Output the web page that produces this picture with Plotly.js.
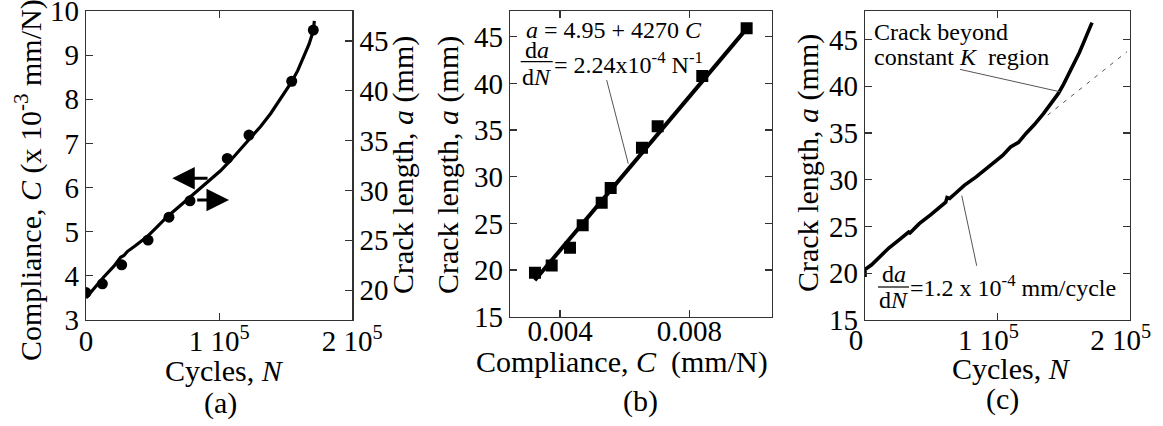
<!DOCTYPE html>
<html>
<head>
<meta charset="utf-8">
<script src="https://cdn.plot.ly/plotly-3.0.1.min.js"></script>
<style>html,body{margin:0;padding:0;background:#fff;}#chart{width:1163px;height:426px;}</style>
</head>
<body>
<div id="chart"></div>
<script>
// ---------- data ----------
// (a) compliance vs cycles
const curveA_N = [0, 6e3, 13.5e3, 21e3, 26e3, 28.5e3, 31e3, 37e3, 46e3, 53e3, 61e3, 70e3, 78.6e3, 86e3, 93.6e3, 101e3, 108.7e3, 116e3, 123.7e3, 131e3, 138.7e3, 146e3, 153.7e3, 159e3, 163.7e3, 167.5e3, 170.7e3, 171.5e3];
const curveA_C = [3.50, 3.72, 3.98, 4.22, 4.42, 4.46, 4.55, 4.68, 4.89, 5.10, 5.34, 5.57, 5.79, 5.98, 6.17, 6.38, 6.62, 6.86, 7.12, 7.38, 7.68, 8.00, 8.36, 8.65, 8.96, 9.25, 9.55, 9.78];
const pointsA_N = [0, 12.3e3, 26.8e3, 46.6e3, 62.3e3, 78.1e3, 106.1e3, 122.4e3, 154.5e3, 170.7e3];
const pointsA_C = [3.62, 3.82, 4.25, 4.81, 5.33, 5.70, 6.66, 7.19, 8.41, 9.57];
// (b) crack length vs compliance
const pointsB_C = [0.003226, 0.003743, 0.004309, 0.004702, 0.005290, 0.005568, 0.006536, 0.007022, 0.008402, 0.009775];
const pointsB_a = [19.7, 20.5, 22.4, 24.8, 27.2, 28.8, 33.1, 35.4, 40.8, 45.9];
const fitB_C = [0.00322, 0.00978];
const fitB_a = [18.9, 45.9];
// (c) crack length vs cycles
const curveC_N = [0, 0, 5e3, 11e3, 18e3, 26e3, 30e3, 33e3, 34e3, 41e3, 50e3, 58e3, 61e3, 62e3, 64e3, 68e3, 75e3, 84e3, 90e3, 97e3, 104e3, 110e3, 116e3, 122e3, 128e3, 135e3, 142e3, 146e3, 150e3, 154e3, 158e3, 162e3, 165e3, 168e3, 170e3, 171.5e3];
const curveC_a = [19.6, 20.4, 20.9, 21.7, 22.7, 23.6, 24.0, 24.4, 24.3, 25.3, 26.3, 27.3, 27.6, 28.1, 28.0, 28.5, 29.4, 30.3, 31.0, 31.7, 32.6, 33.5, 34.0, 35.0, 35.9, 37.1, 38.4, 39.2, 40.2, 41.3, 42.6, 43.6, 44.6, 45.7, 46.3, 46.8];
const fitC_N = [138e3, 198e3];
const fitC_a = [36.9, 43.7];

const tickN = [0, 1e5, 2e5];
const tickNText = ['0', '1 10<sup>5</sup>', '2 10<sup>5</sup>'];
const tickCa = [3, 4, 5, 6, 7, 8, 9, 10];
const tickCrack = [15, 20, 25, 30, 35, 40, 45];
const tickComp = [0.004, 0.008];
const tickCompText = ['0.004', '0.008'];

// ---------- layout helpers (pixel -> paper) ----------
const W = 1163, H = 426;
const px = v => v / W;
const py = v => 1 - v / H;
const FONT = "'Liberation Serif', serif";
const tickFont = {family: FONT, size: 29, color: '#000'};
const annFont = {family: FONT, size: 24, color: '#000'};
const titleFont = {family: FONT, size: 30, color: '#000'};

function axisBase(extra) {
  return Object.assign({
    showline: true, linecolor: '#333', linewidth: 1.3,
    ticks: 'inside', ticklen: 7, tickwidth: 1.2, tickcolor: '#333',
    showgrid: false, zeroline: false, tickfont: tickFont, fixedrange: true,
    ticklabeloverflow: 'allow'
  }, extra);
}

const traces = [
  {x: curveA_N, y: curveA_C, xaxis: 'x', yaxis: 'y', mode: 'lines', line: {color: '#000', width: 3.2}, hoverinfo: 'skip'},
  {x: pointsA_N, y: pointsA_C, xaxis: 'x', yaxis: 'y', mode: 'markers', marker: {symbol: 'circle', size: 11, color: '#000'}, hoverinfo: 'skip'},
  {x: [null], y: [null], xaxis: 'x', yaxis: 'y2', mode: 'markers', showlegend: false, hoverinfo: 'skip'},
  {x: fitB_C, y: fitB_a, xaxis: 'x2', yaxis: 'y3', mode: 'lines', line: {color: '#000', width: 4}, hoverinfo: 'skip'},
  {x: pointsB_C, y: pointsB_a, xaxis: 'x2', yaxis: 'y3', mode: 'markers', marker: {symbol: 'square', size: 12, color: '#000'}, hoverinfo: 'skip'},
  {x: fitC_N, y: fitC_a, xaxis: 'x3', yaxis: 'y4', mode: 'lines', line: {color: '#555', width: 1, dash: '4px,6px'}, hoverinfo: 'skip'},
  {x: curveC_N, y: curveC_a, xaxis: 'x3', yaxis: 'y4', mode: 'lines', line: {color: '#000', width: 3.6}, hoverinfo: 'skip'}
];

const layout = {
  width: W, height: H,
  margin: {l: 0, r: 0, t: 0, b: 0},
  paper_bgcolor: '#fff', plot_bgcolor: '#fff',
  showlegend: false,
  font: {family: FONT, color: '#000'},
  xaxis: axisBase({domain: [px(86), px(352.3)], anchor: 'y', range: [0, 2e5], tickvals: tickN, ticktext: tickNText, mirror: 'ticks', ticklabelstandoff: -5}),
  yaxis: axisBase({domain: [py(320), py(11)], anchor: 'x', range: [2.999, 10.002], tickvals: tickCa, mirror: true}),
  yaxis2: axisBase({overlaying: 'y', side: 'right', anchor: 'x', range: [17, 48], tickvals: tickCrack.slice(1)}),
  xaxis2: axisBase({domain: [px(510), px(771.7)], anchor: 'y3', range: [0.002453, 0.01055], tickvals: tickComp, ticktext: tickCompText, mirror: 'ticks', ticklabelstandoff: -12}),
  yaxis3: axisBase({domain: [py(316.7), py(11)], anchor: 'x2', range: [15, 47.76], tickvals: tickCrack, mirror: 'ticks'}),
  xaxis3: axisBase({domain: [px(865), px(1129.7)], anchor: 'y4', range: [0, 2e5], tickvals: tickN, ticktext: tickNText, mirror: 'ticks', ticklabelshift: -9, ticklabelstandoff: -6}),
  yaxis4: axisBase({domain: [py(320), py(11)], anchor: 'x3', range: [15, 48.04], tickvals: tickCrack, mirror: 'ticks'}),
  shapes: [
    // fraction bars
    {type: 'line', xref: 'paper', yref: 'paper', x0: px(520.7), x1: px(552.7), y0: py(61.7), y1: py(61.7), line: {color: '#000', width: 1.2}},
    {type: 'line', xref: 'paper', yref: 'paper', x0: px(878), x1: px(909), y0: py(287), y1: py(287), line: {color: '#000', width: 1.2}},
    // leader lines
    {type: 'line', xref: 'x2', yref: 'y3', x0: 0.005444, y0: 40.36, x1: 0.006113, y1: 31.4, line: {color: '#555', width: 1}},
    {type: 'line', xref: 'x3', yref: 'y4', x0: 71.8e3, y0: 41.8, x1: 147.4e3, y1: 39.4, line: {color: '#555', width: 1}},
    {type: 'line', xref: 'x3', yref: 'y4', x0: 73.1e3, y0: 28.3, x1: 84.4e3, y1: 20.8, line: {color: '#555', width: 1}}
  ],
  annotations: [
    // axis titles
    {xref: 'paper', yref: 'paper', x: px(28), y: py(180), text: 'Compliance, <i>C</i> (x 10<sup>-3</sup> mm/N)', textangle: -90, showarrow: false, font: titleFont, xanchor: 'center', yanchor: 'middle'},
    {xref: 'paper', yref: 'paper', x: px(403), y: py(165), text: 'Crack length, <i>a</i> (mm)', textangle: -90, showarrow: false, font: titleFont, xanchor: 'center', yanchor: 'middle'},
    {xref: 'paper', yref: 'paper', x: px(448), y: py(165), text: 'Crack length, <i>a</i> (mm)', textangle: -90, showarrow: false, font: titleFont, xanchor: 'center', yanchor: 'middle'},
    {xref: 'paper', yref: 'paper', x: px(808), y: py(163), text: 'Crack length, <i>a</i> (mm)', textangle: -90, showarrow: false, font: titleFont, xanchor: 'center', yanchor: 'middle'},
    {xref: 'paper', yref: 'paper', x: px(224.7), y: py(370), text: 'Cycles, <i>N</i>', showarrow: false, font: titleFont, xanchor: 'center', yanchor: 'middle'},
    {xref: 'paper', yref: 'paper', x: px(622), y: py(362), text: 'Compliance, <i>C</i>  (mm/N)', showarrow: false, font: titleFont, xanchor: 'center', yanchor: 'middle'},
    {xref: 'paper', yref: 'paper', x: px(1011), y: py(368), text: 'Cycles, <i>N</i>', showarrow: false, font: titleFont, xanchor: 'center', yanchor: 'middle'},
    // panel labels
    {xref: 'paper', yref: 'paper', x: px(220), y: py(403), text: '(a)', showarrow: false, font: titleFont, xanchor: 'center', yanchor: 'middle'},
    {xref: 'paper', yref: 'paper', x: px(640), y: py(401), text: '(b)', showarrow: false, font: titleFont, xanchor: 'center', yanchor: 'middle'},
    {xref: 'paper', yref: 'paper', x: px(1002), y: py(399), text: '(c)', showarrow: false, font: titleFont, xanchor: 'center', yanchor: 'middle'},
    // arrows in (a)
    {xref: 'x', yref: 'y', x: 64.8e3, y: 6.21, axref: 'x', ayref: 'y', ax: 92.4e3, ay: 6.21, text: '', showarrow: true, arrowhead: 2, arrowsize: 1.5, arrowwidth: 3, arrowcolor: '#000'},
    {xref: 'x', yref: 'y', x: 107.4e3, y: 5.72, axref: 'x', ayref: 'y', ax: 82.4e3, ay: 5.72, text: '', showarrow: true, arrowhead: 2, arrowsize: 1.5, arrowwidth: 3, arrowcolor: '#000'},
    // (b) equations
    {xref: 'paper', yref: 'paper', x: px(525), y: py(30.5), text: '<i>a</i> = 4.95 + 4270 <i>C</i>', showarrow: false, font: annFont, xanchor: 'left', yanchor: 'middle', borderpad: 0},
    {xref: 'paper', yref: 'paper', x: px(536.7), y: py(50.5), text: 'd<i>a</i>', showarrow: false, font: annFont, xanchor: 'center', yanchor: 'middle', borderpad: 0},
    {xref: 'paper', yref: 'paper', x: px(536.7), y: py(76.7), text: 'd<i>N</i>', showarrow: false, font: annFont, xanchor: 'center', yanchor: 'middle', borderpad: 0},
    {xref: 'paper', yref: 'paper', x: px(553), y: py(63), text: '= 2.24x10<sup>-4</sup> N<sup>-1</sup>', showarrow: false, font: annFont, xanchor: 'left', yanchor: 'middle', borderpad: 0},
    // (c) texts
    {xref: 'paper', yref: 'paper', x: px(873), y: py(31.7), text: 'Crack beyond', showarrow: false, font: annFont, xanchor: 'left', yanchor: 'middle', borderpad: 0},
    {xref: 'paper', yref: 'paper', x: px(873), y: py(56.7), text: 'constant <i>K</i>  region', showarrow: false, font: annFont, xanchor: 'left', yanchor: 'middle', borderpad: 0},
    {xref: 'paper', yref: 'paper', x: px(893.5), y: py(274), text: 'd<i>a</i>', showarrow: false, font: annFont, xanchor: 'center', yanchor: 'middle', borderpad: 0},
    {xref: 'paper', yref: 'paper', x: px(893.5), y: py(300), text: 'd<i>N</i>', showarrow: false, font: annFont, xanchor: 'center', yanchor: 'middle', borderpad: 0},
    {xref: 'paper', yref: 'paper', x: px(909), y: py(286), text: '=1.2 x 10<sup>-4</sup> mm/cycle', showarrow: false, font: annFont, xanchor: 'left', yanchor: 'middle', borderpad: 0}
  ]
};

Plotly.newPlot('chart', traces, layout, {staticPlot: true, displayModeBar: false});
</script>
</body>
</html>
